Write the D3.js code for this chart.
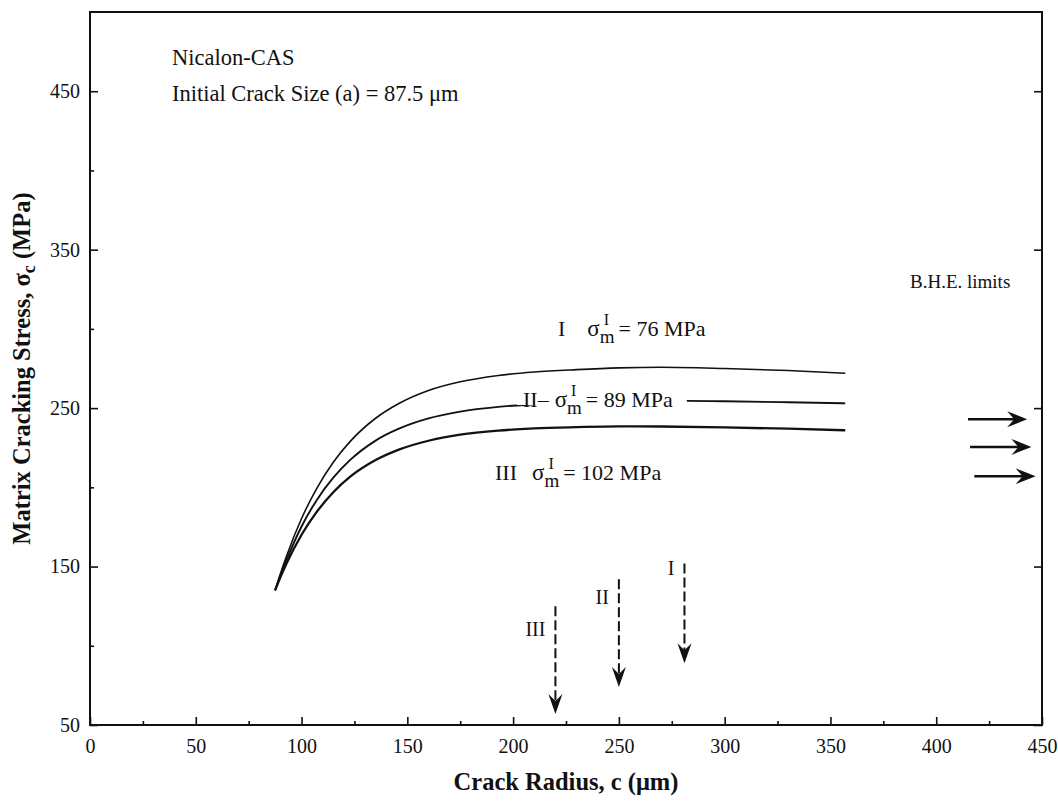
<!DOCTYPE html>
<html><head><meta charset="utf-8">
<script src="https://cdn.jsdelivr.net/npm/d3@7"></script>
<style>
body{margin:0;background:#fff}
text{font-family:"Liberation Serif","Times New Roman",serif;fill:#111}
</style>
</head><body>
<svg id="c" width="1058" height="810"></svg>
<script>
// ---- data ----
const crackRadius = [87.5, 90, 93, 100, 107, 115, 123, 135, 146, 160, 175, 193, 210, 230, 250, 270, 300, 330, 357];
const stressI   = [135, 145.5, 157, 180.3, 198.9, 215.8, 229, 243.6, 252.9, 261.1, 266.6, 270.6, 272.8, 274.3, 275.4, 275.8, 275, 273.7, 272];
const stressII  = [135, 144.5, 154.5, 175.3, 191.6, 206.1, 217.3, 229.5, 237, 243.5, 247.8, 250.8, 252.4, 253.8, 254.6, 254.7, 254.3, 253.7, 253];
const stressIII = [135, 143.2, 152.2, 170.1, 184.2, 196.9, 206.7, 217.2, 223.8, 229.4, 233.2, 235.8, 237.2, 238, 238.5, 238.4, 237.8, 237, 236];
const seriesNames = ["I", "II", "III"];
const sigmaValues = ["76", "89", "102"];
const xMajorTicks = [0, 50, 100, 150, 200, 250, 300, 350, 400, 450];
const xMinorTicks = [25, 75, 125, 175, 225, 275, 325, 375, 425];
const yMajorTicks = [50, 150, 250, 350, 450];
const yMinorTicks = [100, 200, 300, 400];
// dashed arrows: critical crack radius per series
const arrowRadius = [281, 250, 220];
const arrowTop    = [152, 142, 125];
const arrowTip    = [89, 74, 57];
// B.H.E. limits arrows
const bheStress = [243, 225.5, 207];
const bheStart  = [415, 416, 418];
const bheEnd    = [443, 445, 447];

// ---- layout ----
const svg = d3.select("#c");
const x = d3.scaleLinear().domain([0, 450]).range([90, 1042]);
const y = d3.scaleLinear().domain([50, 500]).range([725, 12]);
const FONT = '"Liberation Serif","Times New Roman",serif';

// frame
svg.append("rect").attr("x", x(0)).attr("y", y(500))
  .attr("width", x(450) - x(0)).attr("height", y(50) - y(500))
  .attr("fill", "none").attr("stroke", "#111").attr("stroke-width", 2);

function styleAxis(g){
  g.select(".domain").remove();
  g.selectAll("line").attr("stroke", "#111").attr("stroke-width", 1.6);
  g.selectAll("text").attr("font-size", 20).attr("fill", "#111").attr("font-family", FONT);
}
// x axis
svg.append("g").attr("transform", `translate(0,${y(50)})`)
  .call(d3.axisBottom(x).tickValues(xMajorTicks).tickSizeInner(-8).tickSizeOuter(0).tickPadding(14).tickFormat(d3.format("d")))
  .call(styleAxis);
svg.append("g").attr("transform", `translate(0,${y(50)})`)
  .call(d3.axisBottom(x).tickValues(xMinorTicks).tickSizeInner(-4).tickSizeOuter(0).tickFormat(""))
  .call(styleAxis);
// y axis
svg.append("g").attr("transform", `translate(${x(0)},0)`)
  .call(d3.axisLeft(y).tickValues(yMajorTicks).tickSizeInner(-8).tickSizeOuter(0).tickPadding(10).tickFormat(d3.format("d")))
  .call(styleAxis);
svg.append("g").attr("transform", `translate(${x(0)},0)`)
  .call(d3.axisLeft(y).tickValues(yMinorTicks).tickSizeInner(-4).tickSizeOuter(0).tickFormat(""))
  .call(styleAxis);
// right side ticks
svg.append("g").attr("transform", `translate(${x(450)},0)`)
  .call(d3.axisRight(y).tickValues(yMajorTicks).tickSizeInner(-8).tickSizeOuter(0).tickFormat(""))
  .call(styleAxis);

// axis titles
svg.append("text").attr("x", (x(0) + x(450)) / 2).attr("y", 790)
  .attr("text-anchor", "middle").attr("font-size", 24.5).attr("font-weight", "bold")
  .text("Crack Radius, c (μm)");
const yt = svg.append("text").attr("transform", `translate(30,${(y(50) + y(500)) / 2}) rotate(-90)`)
  .attr("text-anchor", "middle").attr("font-size", 24.5).attr("font-weight", "bold");
yt.append("tspan").text("Matrix Cracking Stress, σ");
yt.append("tspan").attr("dy", 5).attr("font-size", 18).text("c");
yt.append("tspan").attr("dy", -5).text(" (MPa)");

// curves
const line = d3.line().x(d => x(d[0])).y(d => y(d[1])).curve(d3.curveMonotoneX);
const allStress = [stressI, stressII, stressIII];
const widths = [1.6, 1.9, 2.3];
allStress.forEach((s, i) => {
  svg.append("path").datum(crackRadius.map((r, j) => [r, s[j]]))
    .attr("d", line).attr("fill", "none").attr("stroke", "#111")
    .attr("stroke-width", widths[i]).attr("stroke-linejoin", "round");
});

// annotations
svg.append("text").attr("x", 172).attr("y", 65).attr("font-size", 22.5).text("Nicalon-CAS");
svg.append("text").attr("x", 172).attr("y", 101).attr("font-size", 22.5).text("Initial Crack Size (a) = 87.5 μm");

// sigma labels
function sigmaLabel(px, py, prefix, val, gap, bg){
  const g = svg.append("g");
  const bgRect = bg ? g.append("rect").attr("fill", "#fff") : null;
  const t1 = g.append("text").attr("x", px).attr("y", py).attr("font-size", 22).text(prefix);
  let cx = px + t1.node().getComputedTextLength() + gap;
  const s = g.append("text").attr("x", cx).attr("y", py).attr("font-size", 23).text("σ");
  cx += s.node().getComputedTextLength();
  const m = g.append("text").attr("x", cx).attr("y", py + 7).attr("font-size", 19).text("m");
  g.append("text").attr("x", cx + 4).attr("y", py - 11).attr("font-size", 16).text("I");
  cx += m.node().getComputedTextLength() + 4;
  const t2 = g.append("text").attr("x", cx).attr("y", py).attr("font-size", 22).text("= " + val + " MPa");
  const end = cx + t2.node().getComputedTextLength();
  if (bgRect) bgRect.attr("x", px - 6).attr("y", py - 14).attr("width", end - px + 20).attr("height", 12);
}
sigmaLabel(558, 336, seriesNames[0], sigmaValues[0], 22, false);
sigmaLabel(523, 407, seriesNames[1] + "–", sigmaValues[1], 6, true);
sigmaLabel(495, 480, seriesNames[2], sigmaValues[2], 15, false);

// dashed arrows
const arrowLabelDy = [12, 25, 30];
arrowRadius.forEach((r, i) => {
  const ax = x(r), top = y(arrowTop[i]), tip = y(arrowTip[i]);
  svg.append("line").attr("x1", ax).attr("x2", ax).attr("y1", top).attr("y2", tip - 10)
    .attr("stroke", "#111").attr("stroke-width", 2).attr("stroke-dasharray", "10,4");
  svg.append("path").attr("d", `M${ax},${tip} L${ax - 7},${tip - 20} L${ax},${tip - 13} L${ax + 7},${tip - 20} Z`)
    .attr("fill", "#111");
  svg.append("text").attr("x", ax - 10).attr("y", top + arrowLabelDy[i]).attr("text-anchor", "end")
    .attr("font-size", 20).text(seriesNames[i]);
});

// B.H.E. limits
svg.append("text").attr("x", 910).attr("y", 288).attr("font-size", 19).text("B.H.E. limits");
bheStress.forEach((s, i) => {
  const yy = y(s), x1 = x(bheStart[i]), x2 = x(bheEnd[i]);
  svg.append("line").attr("x1", x1).attr("x2", x2 - 10).attr("y1", yy).attr("y2", yy)
    .attr("stroke", "#111").attr("stroke-width", 2.4);
  svg.append("path").attr("d", `M${x2},${yy} L${x2 - 20},${yy - 8} L${x2 - 13},${yy} L${x2 - 20},${yy + 8} Z`)
    .attr("fill", "#111");
});
</script>
</body></html>
